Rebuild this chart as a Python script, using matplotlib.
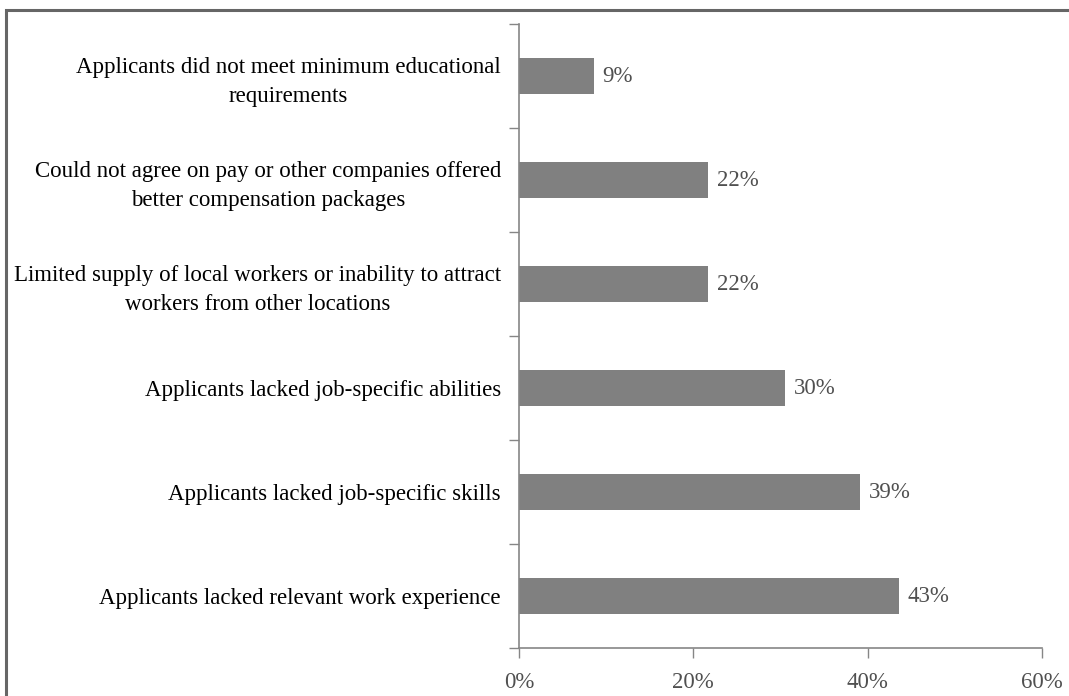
import matplotlib.pyplot as plt
from matplotlib.patches import Rectangle
from matplotlib.ticker import FuncFormatter

plt.rcParams['font.family'] = ['Liberation Serif', 'DejaVu Serif']

categories = [
    'Applicants lacked relevant work experience',
    'Applicants lacked job-specific skills',
    'Applicants lacked job-specific abilities',
    'Limited supply of local workers or inability to attract\nworkers from other locations',
    'Could not agree on pay or other companies offered\nbetter compensation packages',
    'Applicants did not meet minimum educational\nrequirements',
]
values = [43.6, 39.1, 30.5, 21.7, 21.7, 8.6]
labels = ['43%', '39%', '30%', '22%', '22%', '9%']
xticks = [0, 20, 40, 60]

W, H = 1069, 696
fig = plt.figure(figsize=(W / 100, H / 100), dpi=100)
ax = fig.add_axes([519 / W, 1 - 648 / H, (1042 - 519) / W, (648 - 24) / H])

ypos = range(len(categories))
ax.barh(ypos, values, height=0.35, color='#808080', edgecolor='none')
for y, v, lab in zip(ypos, values, labels):
    ax.text(v + 1.0, y, lab, va='center', ha='left', fontsize=16.5, color='#505050')

ax.set_xlim(0, 60)
ax.set_ylim(-0.5, len(categories) - 0.5)
ax.set_xticks(xticks)
ax.xaxis.set_major_formatter(FuncFormatter(lambda v, p: f'{v:.0f}%'))
ax.tick_params(axis='x', direction='out', length=7, width=1, color='#868686',
               labelsize=16.5, labelcolor='#505050', pad=10)

# category labels, ticks between bars
ax.set_yticks(list(ypos))
ax.set_yticklabels(categories, fontsize=16.5, color='black',
                   multialignment='center', linespacing=1.45)
ax.tick_params(axis='y', length=0, pad=13)
ax.set_yticks([y - 0.5 for y in range(len(categories) + 1)], minor=True)
ax.tick_params(axis='y', which='minor', direction='out', length=7, width=1,
               color='#868686')

for s in ['top', 'right']:
    ax.spines[s].set_visible(False)
for s in ['left', 'bottom']:
    ax.spines[s].set_color('#868686')
    ax.spines[s].set_linewidth(1.2)

# outer frame, clipped at right and bottom
fig.patches.append(Rectangle((6 / W, -0.1), 1.2, 1 - 10 / H + 0.1,
                             transform=fig.transFigure, fill=False,
                             edgecolor='#666666', linewidth=2.2))

fig.savefig('out.png', dpi=100)
